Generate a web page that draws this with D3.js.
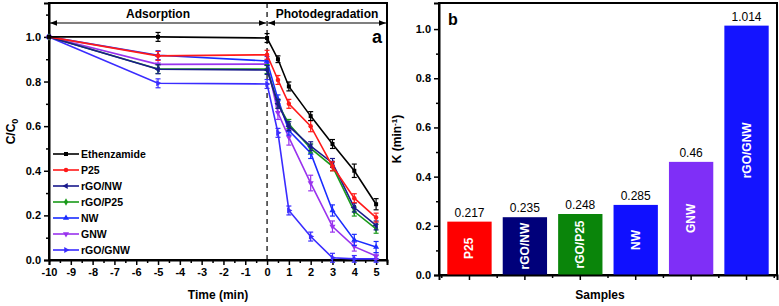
<!DOCTYPE html>
<html>
<head>
<meta charset="utf-8">
<script src="https://cdn.jsdelivr.net/npm/d3@7"></script>
<style>
  body { margin: 0; background: #fff; }
  text { font-family: Arial, "Liberation Sans", sans-serif; }
</style>
</head>
<body>
<div id="chart"></div>
<script>
const W = 779, H = 306;

// panel a data
const times = [-10, -5, 0, 0.5, 1, 2, 3, 4, 5];
const seriesNames = ["Ethenzamide", "P25", "rGO/NW", "rGO/P25", "NW", "GNW", "rGO/GNW"];
const ethenzamide = [1.0, 1.0, 0.995, 0.90, 0.778, 0.645, 0.52, 0.40, 0.25];
const p25 = [1.0, 0.915, 0.92, 0.807, 0.70, 0.60, 0.42, 0.277, 0.19];
const rgoNw = [1.0, 0.855, 0.852, 0.70, 0.60, 0.51, 0.435, 0.235, 0.155];
const rgoP25 = [1.0, 0.856, 0.856, 0.70, 0.61, 0.50, 0.42, 0.217, 0.14];
const nw = [1.0, 0.918, 0.892, 0.72, 0.58, 0.48, 0.222, 0.09, 0.058];
const gnw = [1.0, 0.877, 0.878, 0.66, 0.55, 0.345, 0.15, 0.06, 0.018];
const rgoGnw = [1.0, 0.792, 0.789, 0.57, 0.222, 0.105, 0.01, 0.005, 0.005];
const errEth = [0, 0.02, 0.02, 0.015, 0.02, 0.02, 0.02, 0.03, 0.025];
const errP25 = [0, 0.02, 0.02, 0.02, 0.02, 0.025, 0.02, 0.02, 0.02];
const errRgoNw = [0, 0.02, 0.02, 0.02, 0.02, 0.02, 0.02, 0.02, 0.02];
const errRgoP25 = [0, 0.02, 0.02, 0.02, 0.02, 0.02, 0.02, 0.02, 0.02];
const errNw = [0, 0.02, 0.02, 0.02, 0.02, 0.025, 0.025, 0.025, 0.025];
const errGnw = [0, 0.02, 0.02, 0.03, 0.035, 0.035, 0.025, 0.02, 0.015];
const errRgoGnw = [0, 0.02, 0.02, 0.02, 0.02, 0.02, 0.02, 0.015, 0.015];
const lineColors = ["#000000", "#ff1a1a", "#1a1a8c", "#1a9a1a", "#1a2cff", "#9933ee", "#3a2cff"];
const markers = [d3.symbolSquare, d3.symbolCircle, "left", d3.symbolDiamond, "up", "down", "right"];

// panel b data
const samples = ["P25", "rGO/NW", "rGO/P25", "NW", "GNW", "rGO/GNW"];
const kValues = [0.217, 0.235, 0.248, 0.285, 0.46, 1.014];
const kLabels = ["0.217", "0.235", "0.248", "0.285", "0.46", "1.014"];
const barColors = ["#ff0000", "#00007a", "#0a850a", "#1010ff", "#7f2ff7", "#1414ff"];

const values = [ethenzamide, p25, rgoNw, rgoP25, nw, gnw, rgoGnw];
const errs = [errEth, errP25, errRgoNw, errRgoP25, errNw, errGnw, errRgoGnw];

const svg = d3.select("#chart").append("svg")
    .attr("width", W)
    .attr("height", H);

// ---------- panel a ----------
const aLeft = 49, aRight = 387, aTop = 3, aBottom = 260;
const x = d3.scaleLinear().domain([-10, 5.5]).range([aLeft, aRight]);
const y = d3.scaleLinear().domain([0, 1.152]).range([aBottom, aTop]);

const gA = svg.append("g");

// frame
gA.append("rect")
    .attr("x", aLeft).attr("y", aTop)
    .attr("width", aRight - aLeft).attr("height", aBottom - aTop)
    .attr("fill", "none").attr("stroke", "#000").attr("stroke-width", 2);

// x axis
const xMajor = d3.range(-10, 6, 1);
const xMinor = d3.range(-9.5, 5.6, 1);
gA.append("g")
    .attr("transform", `translate(0,${aBottom})`)
    .call(d3.axisBottom(x).tickValues(xMinor).tickSize(3).tickFormat(""))
    .call(g => g.select(".domain").remove());
const xAxisA = gA.append("g")
    .attr("class", "xAxis")
    .attr("transform", `translate(0,${aBottom})`)
    .call(d3.axisBottom(x).tickValues(xMajor).tickSize(5).tickPadding(3).tickFormat(d => String(d)));
xAxisA.select(".domain").attr("stroke-width", 2);

// y axis
const yMajor = [0, 0.2, 0.4, 0.6, 0.8, 1.0];
const yMinor = [0.1, 0.3, 0.5, 0.7, 0.9, 1.1];
gA.append("g")
    .attr("transform", `translate(${aLeft},0)`)
    .call(d3.axisLeft(y).tickValues(yMinor).tickSize(3).tickFormat(""))
    .call(g => g.select(".domain").remove());
const yAxisA = gA.append("g")
    .attr("class", "yAxis")
    .attr("transform", `translate(${aLeft},0)`)
    .call(d3.axisLeft(y).tickValues(yMajor).tickSize(5).tickPadding(3).tickFormat(d3.format(".1f")));
yAxisA.select(".domain").attr("stroke-width", 2);

[xAxisA, yAxisA].forEach(ax => {
    ax.selectAll("text").style("font-size", "11px").style("font-weight", "bold").attr("fill", "#000");
});
gA.selectAll(".tick line").attr("stroke-width", 1.5);

// dashed line at t = 0
gA.append("line")
    .attr("x1", x(0)).attr("x2", x(0))
    .attr("y1", aTop).attr("y2", aBottom)
    .attr("stroke", "#000").attr("stroke-width", 1.2)
    .attr("stroke-dasharray", "5,4");

// arrows
const defs = svg.append("defs");
defs.append("marker")
    .attr("id", "arr")
    .attr("viewBox", "0 0 10 10")
    .attr("refX", 10).attr("refY", 5)
    .attr("markerWidth", 6).attr("markerHeight", 6)
    .attr("orient", "auto-start-reverse")
    .append("path").attr("d", "M0,1 L10,5 L0,9 Z").attr("fill", "#000");

const arrowY = 23;
gA.append("line")
    .attr("x1", aLeft + 1).attr("x2", x(0) - 1)
    .attr("y1", arrowY).attr("y2", arrowY)
    .attr("stroke", "#000").attr("stroke-width", 1.2)
    .attr("marker-start", "url(#arr)").attr("marker-end", "url(#arr)");
gA.append("line")
    .attr("x1", x(0) + 1).attr("x2", aRight - 1)
    .attr("y1", arrowY).attr("y2", arrowY)
    .attr("stroke", "#000").attr("stroke-width", 1.2)
    .attr("marker-start", "url(#arr)").attr("marker-end", "url(#arr)");

gA.append("text")
    .attr("x", (aLeft + x(0)) / 2).attr("y", 18)
    .attr("text-anchor", "middle")
    .style("font-size", "12px").style("font-weight", "bold")
    .text("Adsorption");
gA.append("text")
    .attr("x", 327).attr("y", 18)
    .attr("text-anchor", "middle")
    .style("font-size", "12px").style("font-weight", "bold")
    .text("Photodegradation");
gA.append("text")
    .attr("x", 382).attr("y", 43)
    .attr("text-anchor", "end")
    .style("font-size", "18px").style("font-weight", "bold")
    .text("a");

function markerPath(kind, size) {
    if (typeof kind !== "string") return d3.symbol().type(kind).size(size)();
    return d3.symbol().type(d3.symbolTriangle).size(size)();
}
function markerRotate(kind) {
    return kind === "down" ? 180 : kind === "left" ? -90 : kind === "right" ? 90 : 0;
}

const line = d3.line().x(d => x(d[0])).y(d => y(d[1]));

// draw series, black last so it sits on top
const order = [6, 5, 4, 3, 2, 1, 0];
order.forEach(i => {
    const pts = times.map((t, j) => [t, values[i][j], errs[i][j]]);
    const g = gA.append("g");
    g.append("path")
        .datum(pts)
        .attr("d", line)
        .attr("fill", "none")
        .attr("stroke", lineColors[i])
        .attr("stroke-width", 1.6);
    const eb = g.selectAll(".eb").data(pts.filter(d => d[2] > 0)).enter().append("g");
    eb.append("line")
        .attr("x1", d => x(d[0])).attr("x2", d => x(d[0]))
        .attr("y1", d => y(d[1] - d[2])).attr("y2", d => y(d[1] + d[2]))
        .attr("stroke", lineColors[i]).attr("stroke-width", 1.2);
    [-1, 1].forEach(s => {
        eb.append("line")
            .attr("x1", d => x(d[0]) - 2.5).attr("x2", d => x(d[0]) + 2.5)
            .attr("y1", d => y(d[1] + s * d[2])).attr("y2", d => y(d[1] + s * d[2]))
            .attr("stroke", lineColors[i]).attr("stroke-width", 1.2);
    });
    g.selectAll(".pt").data(pts).enter().append("path")
        .attr("d", markerPath(markers[i], 16))
        .attr("transform", d => `translate(${x(d[0])},${y(d[1])}) rotate(${markerRotate(markers[i])})`)
        .attr("fill", lineColors[i]);
});

// legend
const legend = gA.append("g").attr("transform", "translate(53,154)");
seriesNames.forEach((name, i) => {
    const row = legend.append("g").attr("transform", `translate(0,${i * 16})`);
    row.append("line").attr("x1", 0).attr("x2", 26).attr("y1", 0).attr("y2", 0)
        .attr("stroke", lineColors[i]).attr("stroke-width", 1.6);
    row.append("path")
        .attr("d", markerPath(markers[i], 16))
        .attr("transform", `translate(13,0) rotate(${markerRotate(markers[i])})`)
        .attr("fill", lineColors[i]);
    row.append("text")
        .attr("x", 28).attr("y", 4)
        .style("font-size", "10.5px").style("font-weight", "bold")
        .text(name);
});

// axis labels
const yLabA = gA.append("text")
    .attr("transform", `translate(15,${(aTop + aBottom) / 2}) rotate(-90)`)
    .attr("text-anchor", "middle")
    .style("font-size", "12px").style("font-weight", "bold");
yLabA.append("tspan").text("C/C");
yLabA.append("tspan").attr("dy", 3).style("font-size", "9px").text("0");

gA.append("text")
    .attr("x", 218).attr("y", 299)
    .attr("text-anchor", "middle")
    .style("font-size", "12px").style("font-weight", "bold")
    .text("Time (min)");

// ---------- panel b ----------
const bLeft = 439, bRight = 777, bTop = 3, bBottom = 275;
const xb = d3.scaleBand().domain(samples).range([bLeft, bRight]).paddingInner(0.2).paddingOuter(0.15);
const yb = d3.scaleLinear().domain([0, 1.106]).range([bBottom, bTop]);

const gB = svg.append("g");

gB.append("rect")
    .attr("x", bLeft).attr("y", bTop)
    .attr("width", bRight - bLeft).attr("height", bBottom - bTop)
    .attr("fill", "none").attr("stroke", "#000").attr("stroke-width", 2);

gB.selectAll(".bar").data(samples).enter().append("rect")
    .attr("x", d => xb(d))
    .attr("y", (d, i) => yb(kValues[i]))
    .attr("width", xb.bandwidth())
    .attr("height", (d, i) => bBottom - yb(kValues[i]))
    .attr("fill", (d, i) => barColors[i]);

gB.selectAll(".val").data(samples).enter().append("text")
    .attr("x", d => xb(d) + xb.bandwidth() / 2)
    .attr("y", (d, i) => yb(kValues[i]) - 5)
    .attr("text-anchor", "middle")
    .style("font-size", "12px")
    .text((d, i) => kLabels[i]);

gB.selectAll(".inner").data(samples).enter().append("text")
    .attr("transform", (d, i) => `translate(${xb(d) + xb.bandwidth() / 2 + 4},${(yb(kValues[i]) + bBottom) / 2}) rotate(-90)`)
    .attr("text-anchor", "middle")
    .attr("fill", "#fff")
    .style("font-size", "12px").style("font-weight", "bold")
    .text(d => d);

// x axis b: ticks at bar centres, minor at band boundaries
const step = xb.step();
const minorB = samples.map(d => xb(d) + xb.bandwidth() / 2 - step / 2).concat([xb(samples[5]) + xb.bandwidth() / 2 + step / 2]);
const xAxisB = gB.append("g")
    .attr("transform", `translate(0,${bBottom})`)
    .call(d3.axisBottom(xb).tickSize(5).tickFormat(""));
xAxisB.select(".domain").attr("stroke-width", 2);
gB.append("g").selectAll("line").data(minorB).enter().append("line")
    .attr("x1", d => d).attr("x2", d => d)
    .attr("y1", bBottom).attr("y2", bBottom + 3)
    .attr("stroke", "#000").attr("stroke-width", 1.5);

gB.append("g")
    .attr("transform", `translate(${bLeft},0)`)
    .call(d3.axisLeft(yb).tickValues([0.1, 0.3, 0.5, 0.7, 0.9]).tickSize(3).tickFormat(""))
    .call(g => g.select(".domain").remove());
const yAxisB = gB.append("g")
    .attr("transform", `translate(${bLeft},0)`)
    .call(d3.axisLeft(yb).tickValues(yMajor).tickSize(5).tickPadding(3).tickFormat(d3.format(".1f")));
yAxisB.select(".domain").attr("stroke-width", 2);
yAxisB.selectAll("text").style("font-size", "11px").style("font-weight", "bold");
gB.selectAll(".tick line").attr("stroke-width", 1.5);

gB.append("text")
    .attr("x", 448).attr("y", 25)
    .style("font-size", "16px").style("font-weight", "bold")
    .text("b");

const yLabB = gB.append("text")
    .attr("transform", `translate(401,${(bTop + bBottom) / 2}) rotate(-90)`)
    .attr("text-anchor", "middle")
    .style("font-size", "12px").style("font-weight", "bold");
yLabB.append("tspan").text("K (min");
yLabB.append("tspan").attr("dy", -4).style("font-size", "8px").text("-1");
yLabB.append("tspan").attr("dy", 4).text(")");

gB.append("text")
    .attr("x", 600).attr("y", 299)
    .attr("text-anchor", "middle")
    .style("font-size", "12px").style("font-weight", "bold")
    .text("Samples");
</script>
</body>
</html>
